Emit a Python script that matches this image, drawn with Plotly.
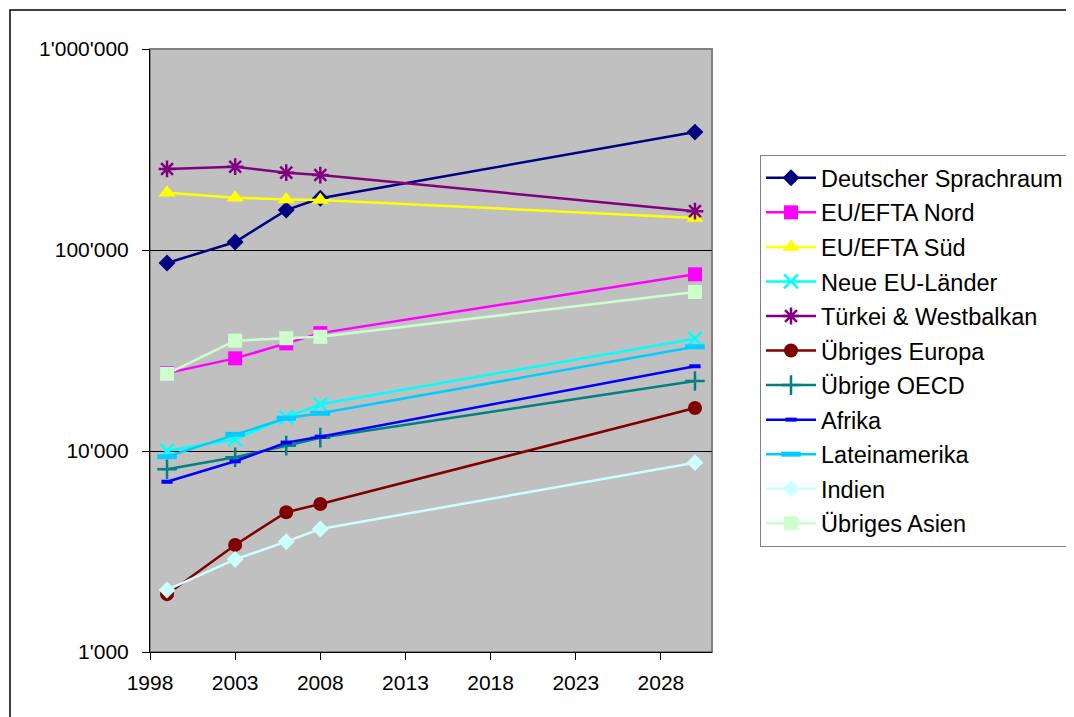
import plotly.graph_objects as go

years = [1999, 2003, 2006, 2008, 2030]

series_names = [
    "Deutscher Sprachraum", "EU/EFTA Nord", "EU/EFTA Süd", "Neue EU-Länder",
    "Türkei & Westbalkan", "Übriges Europa", "Übrige OECD", "Afrika",
    "Lateinamerika", "Indien", "Übriges Asien",
]

deutscher_sprachraum = [86100, 109600, 158000, 181000, 386000]
eu_efta_nord = [24400, 28900, 34300, 38600, 75700]
eu_efta_sued = [192800, 182000, 178500, 177400, 144300]
neue_eu_laender = [10040, 11430, 14700, 17070, 36200]
tuerkei_westbalkan = [253000, 259600, 242500, 236000, 156000]
uebriges_europa = [1940, 3410, 4960, 5450, 16370]
uebrige_oecd = [8110, 9310, 10630, 11650, 22300]
afrika = [7030, 8890, 11010, 11780, 26400]
lateinamerika = [9370, 12100, 14550, 15400, 33000]
indien = [2035, 2890, 3540, 4090, 8750]
uebriges_asien = [24200, 35400, 36400, 37000, 61800]

x_ticks = [1998, 2003, 2008, 2013, 2018, 2023, 2028]
y_ticks = [1000, 10000, 100000, 1000000]
y_tick_labels = ["1'000", "10'000", "100'000", "1'000'000"]

values = [deutscher_sprachraum, eu_efta_nord, eu_efta_sued, neue_eu_laender,
          tuerkei_westbalkan, uebriges_europa, uebrige_oecd, afrika,
          lateinamerika, indien, uebriges_asien]

styles = [
    dict(color="#000080", symbol="diamond", size=13),
    dict(color="#FF00FF", symbol="square", size=14),
    dict(color="#FFFF00", symbol="triangle-up", size=15),
    dict(color="#00FFFF", symbol="x-thin", size=14, lw=2.5),
    dict(color="#800080", symbol="asterisk", size=14, lw=2.5),
    dict(color="#800000", symbol="circle", size=14),
    dict(color="#008080", symbol="cross-thin", size=14, lw=2.5),
    dict(color="#0000FF", symbol="line-ew", size=8, lw=4),
    dict(color="#00CCFF", symbol="line-ew", size=14, lw=5),
    dict(color="#CCFFFF", symbol="diamond", size=13),
    dict(color="#CCFFCC", symbol="square", size=14),
]

fig = go.Figure()
for i, (name, vals, st) in enumerate(zip(series_names, values, styles)):
    marker = dict(symbol=st["symbol"], size=st["size"], color=st["color"])
    if "lw" in st:
        marker["line"] = dict(color=st["color"], width=st["lw"])
    else:
        marker["line"] = dict(width=0)
    fig.add_trace(go.Scatter(
        x=years, y=vals, name=name, mode="lines+markers",
        line=dict(color=st["color"], width=2.5),
        marker=marker, legendgroup=f"g{i}",
    ))

# page has an 8px body offset
OFF = 8
L, R, T, B = 150 - OFF, 712 - OFF, 49 - OFF, 652 - OFF
W, H = 1074, 717
pw, ph = R - L, B - T

fig.update_layout(
    width=W, height=H,
    margin=dict(l=L, r=W - R, t=T, b=H - B, pad=0),
    paper_bgcolor="white",
    plot_bgcolor="#C0C0C0",
    font=dict(family="Liberation Sans, Arial", size=21, color="black"),
    showlegend=True,
    legend=dict(
        x=(760 - OFF - L) / pw, y=1 - (155 - OFF - T) / ph,
        xanchor="left", yanchor="top",
        bgcolor="white", bordercolor="#808080", borderwidth=1,
        font=dict(size=23.5), traceorder="grouped", tracegroupgap=1,
        itemwidth=50,
    ),
    xaxis=dict(
        range=[1998, 2031], tickvals=x_ticks, showgrid=False, zeroline=False,
        showline=True, linecolor="black", linewidth=1,
        ticks="outside", ticklen=7, tickcolor="black",
        tickfont=dict(size=21), ticklabelstandoff=5,
    ),
    yaxis=dict(
        type="log", range=[3, 6], tickvals=y_ticks, ticktext=y_tick_labels,
        showgrid=True, gridcolor="black", gridwidth=1, zeroline=False,
        showline=True, linecolor="black", linewidth=1,
        ticks="outside", ticklen=7, tickcolor="black",
        tickfont=dict(size=21), ticklabelstandoff=9,
    ),
    shapes=[
        dict(type="rect", xref="paper", yref="paper", x0=0, x1=1, y0=0, y1=1,
             line=dict(color="#808080", width=2), layer="below"),
        dict(type="rect", xref="paper", yref="paper",
             x0=(10 - OFF - L) / pw, x1=2, y0=-1, y1=1 + (T - (10 - OFF)) / ph,
             line=dict(color="black", width=1.5), layer="below"),
    ],
)

fig.write_html("out.html")
